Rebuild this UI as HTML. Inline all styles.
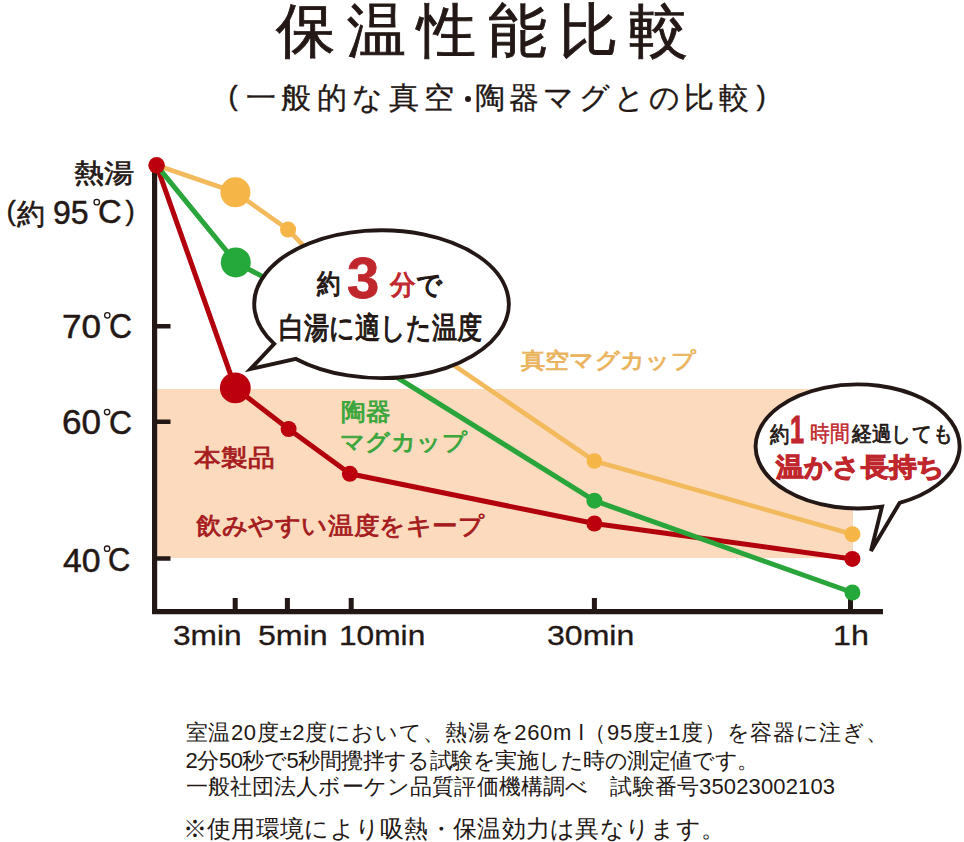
<!DOCTYPE html>
<html>
<head>
<meta charset="utf-8">
<style>
html,body{margin:0;padding:0;background:#fff;}
body{width:964px;height:842px;position:relative;overflow:hidden;font-family:"Liberation Sans",sans-serif;color:#231815;}
.t{position:absolute;white-space:nowrap;line-height:1;transform-origin:0 0;}
svg{position:absolute;left:0;top:0;}
</style>
</head>
<body>
<svg width="964" height="842" viewBox="0 0 964 842">
  <rect x="157" y="389" width="696" height="169" fill="#fbdabe"/>
  <g stroke="#231815" fill="none">
    <path d="M154.6 168 V611.6 H883" stroke-width="5.2"/>
    <path d="M157 326.3 H170.5 M157 421.7 H170.5 M157 558.5 H170.5" stroke-width="4.5"/>
    <path d="M235.2 598 V611 M287.4 598 V611 M351.2 598 V611 M594.4 598 V611 M850.5 598 V611" stroke-width="5"/>
  </g>
  <g fill="#f6b547">
    <polyline points="156.6,165.3 235.4,192.3 288.1,229.6 350,294.5 594.4,461 852.4,534.2" fill="none" stroke="#f2ba5c" stroke-width="4.6" stroke-linejoin="round"/>
    <circle cx="235.4" cy="192.3" r="15"/>
    <circle cx="288.1" cy="229.6" r="8"/>
    <circle cx="594.4" cy="461" r="7.8"/>
    <circle cx="852.4" cy="534.2" r="8"/>
  </g>
  <g fill="#bc000e">
    <polyline points="156.6,165.3 235.3,387.9 288.6,429 349.9,473.8 594.4,523.5 852.4,558.9" fill="none" stroke="#b3000d" stroke-width="5" stroke-linejoin="round"/>
    <circle cx="235.3" cy="387.9" r="15.4"/>
    <circle cx="288.6" cy="429" r="8"/>
    <circle cx="349.9" cy="473.8" r="8"/>
    <circle cx="594.4" cy="523.5" r="8"/>
    <circle cx="852.4" cy="558.9" r="8"/>
  </g>
  <g fill="#25a93a">
    <polyline points="156.6,165.3 235.8,262.4 288,290 350,348.2 594.4,500.7 852.4,592.5" fill="none" stroke="#2aa53b" stroke-width="5" stroke-linejoin="round"/>
    <circle cx="235.8" cy="262.4" r="15"/>
    <circle cx="594.4" cy="500.7" r="8"/>
    <circle cx="852.4" cy="592.5" r="8"/>
  </g>
  <circle cx="156.6" cy="165.3" r="8.3" fill="#bc000e"/>
  <path d="M296 358.9 A127.3 73.9 0 1 0 274.2 343.9 L250.5 369 Z" fill="#fff" stroke="#231815" stroke-width="3.9"/>
  <path d="M899.6 502.9 A102 62 0 1 0 882 506.6 L871 551 Z" fill="#fff" stroke="#231815" stroke-width="3.9"/>
  <g fill="none" stroke="#231815" stroke-width="1.3">
    <circle cx="96.75" cy="202.15" r="2.75"/>
    <circle cx="107.3" cy="315.35" r="2.7"/>
    <circle cx="107.1" cy="412.05" r="2.7"/>
    <circle cx="107.1" cy="548.7" r="2.7"/>
  </g>
  <circle cx="468" cy="99" r="3" fill="#231815"/>
</svg>


<div class="t" id="title" style="left:276.03px;top:2.48px;font-size:59.00px;letter-spacing:11.65px;-webkit-text-stroke-width:0.9px;">保温性能比較</div>
<div class="t" id="sp1" style="left:228.53px;top:81.68px;font-size:27.07px;-webkit-text-stroke-width:0.4px;">(</div>
<div class="t" id="s1" style="left:245.90px;top:82.65px;font-size:29.50px;letter-spacing:5.48px;-webkit-text-stroke-width:0.3px;">一般的な真空</div>
<div class="t" id="s2" style="left:474.90px;top:82.65px;font-size:29.50px;letter-spacing:4.23px;-webkit-text-stroke-width:0.3px;">陶器マグとの比較</div>
<div class="t" id="sp2" style="left:756.73px;top:81.68px;font-size:27.07px;-webkit-text-stroke-width:0.4px;">)</div>
<div class="t" id="ya1" style="left:73.60px;top:160.60px;font-size:25.94px;transform:scaleX(1.1639);-webkit-text-stroke-width:0.6px;">熱湯</div>
<div class="t" id="yb1" style="left:6.60px;top:197.10px;font-size:27.88px;-webkit-text-stroke-width:0.4px;">(</div>
<div class="t" id="yb2" style="left:17.10px;top:199.60px;font-size:28.57px;transform:scaleX(0.9617);-webkit-text-stroke-width:0.6px;">約</div>
<div class="t" id="yb3" style="left:53.10px;top:196.30px;font-size:33.86px;transform:scaleX(0.9449);-webkit-text-stroke-width:0.5px;">95</div>
<div class="t" id="yb4" style="left:98.30px;top:195.40px;font-size:33.25px;transform:scaleX(0.9843);-webkit-text-stroke-width:0.5px;">C</div>
<div class="t" id="yb5" style="left:125.60px;top:197.10px;font-size:27.88px;-webkit-text-stroke-width:0.4px;">)</div>
<div class="t" id="y70" style="left:61.90px;top:310.30px;font-size:33.20px;transform:scaleX(1.0574);-webkit-text-stroke-width:0.5px;">70</div>
<div class="t" id="y70c" style="left:109.00px;top:307.90px;font-size:35.25px;transform:scaleX(0.9031);-webkit-text-stroke-width:0.5px;">C</div>
<div class="t" id="y60" style="left:61.90px;top:404.30px;font-size:35.97px;transform:scaleX(0.9758);-webkit-text-stroke-width:0.5px;">60</div>
<div class="t" id="y60c" style="left:109.00px;top:405.60px;font-size:33.88px;transform:scaleX(0.9396);-webkit-text-stroke-width:0.5px;">C</div>
<div class="t" id="y40" style="left:63.40px;top:544.70px;font-size:32.93px;transform:scaleX(1.0251);-webkit-text-stroke-width:0.5px;">40</div>
<div class="t" id="y40c" style="left:108.30px;top:543.10px;font-size:33.05px;transform:scaleX(0.9360);-webkit-text-stroke-width:0.5px;">C</div>
<div class="t" id="x3" style="left:173.07px;top:621.92px;font-size:27.46px;transform:scaleX(1.1520);-webkit-text-stroke-width:0.3px;">3min</div>
<div class="t" id="x5" style="left:257.67px;top:621.92px;font-size:27.46px;transform:scaleX(1.1707);-webkit-text-stroke-width:0.3px;">5min</div>
<div class="t" id="x10" style="left:339.07px;top:621.92px;font-size:27.46px;transform:scaleX(1.1537);-webkit-text-stroke-width:0.3px;">10min</div>
<div class="t" id="x30" style="left:547.07px;top:621.92px;font-size:27.46px;transform:scaleX(1.1669);-webkit-text-stroke-width:0.3px;">30min</div>
<div class="t" id="x1h" style="left:833.07px;top:621.92px;font-size:27.46px;transform:scaleX(1.1748);-webkit-text-stroke-width:0.3px;">1h</div>
<div class="t" id="lv" style="left:521.25px;top:349.60px;font-size:21.78px;transform:scaleX(1.1002);-webkit-text-stroke-width:0.9px;color:#eab45e;">真空マグカップ</div>
<div class="t" id="lc1" style="left:340.85px;top:400.60px;font-size:23.58px;transform:scaleX(1.0234);-webkit-text-stroke-width:0.9px;color:#3aa63c;">陶器</div>
<div class="t" id="lc2" style="left:339.85px;top:431.80px;font-size:22.60px;transform:scaleX(1.0592);-webkit-text-stroke-width:0.9px;color:#3aa63c;">マグカップ</div>
<div class="t" id="lp1" style="left:194.22px;top:445.92px;font-size:23.93px;transform:scaleX(1.1158);-webkit-text-stroke-width:0.8px;color:#a61b1e;">本製品</div>
<div class="t" id="lp2" style="left:196.00px;top:514.20px;font-size:24.40px;transform:scaleX(1.0652);-webkit-text-stroke-width:0.8px;color:#a61b1e;">飲みやすい温度をキープ</div>
<div class="t" id="b1a" style="left:316.66px;top:270.26px;font-size:27.17px;transform:scaleX(0.8644);-webkit-text-stroke-width:1.2px;">約</div>
<div class="t" id="b1b" style="left:347.06px;top:249.76px;font-size:57.54px;transform:scaleX(1.0090);-webkit-text-stroke-width:0.8px;color:#c0272d;font-weight:bold;">3</div>
<div class="t" id="b1c" style="left:390.00px;top:271.20px;font-size:27.34px;transform:scaleX(0.9451);-webkit-text-stroke-width:1.2px;"><span style='color:#c0272d'>分</span>で</div>
<div class="t" id="b1d" style="left:279.00px;top:312.70px;font-size:30.37px;transform:scaleX(0.8371);-webkit-text-stroke-width:1.1px;">白湯に適した温度</div>
<div class="t" id="b2a" style="left:769.78px;top:423.58px;font-size:21.55px;transform:scaleX(0.8795);-webkit-text-stroke-width:0.8px;">約</div>
<div class="t" id="b2b" style="left:789.72px;top:409.52px;font-size:39.55px;transform:scaleX(0.6388);-webkit-text-stroke-width:1.0px;color:#c0272d;font-weight:bold;">1</div>
<div class="t" id="b2c" style="left:810.00px;top:422.60px;font-size:22.07px;transform:scaleX(0.8989);-webkit-text-stroke-width:0.5px;color:#c0272d;">時間</div>
<div class="t" id="b2d" style="left:852.00px;top:423.60px;font-size:20.80px;transform:scaleX(0.9389);-webkit-text-stroke-width:0.8px;">経過しても</div>
<div class="t" id="b2e" style="left:775.63px;top:454.88px;font-size:25.88px;transform:scaleX(1.0641);-webkit-text-stroke-width:1.0px;color:#c0272d;font-weight:bold;">温かさ長持ち</div>
<div class="t" id="n1" style="left:185.57px;top:721.92px;font-size:22.00px;letter-spacing:0.68px;">室温20度±2度において、熱湯を260m l（95度±1度）を容器に注ぎ、</div>
<div class="t" id="n2" style="left:185.57px;top:749.72px;font-size:22.00px;letter-spacing:-0.46px;">2分50秒で5秒間攪拌する試験を実施した時の測定値です。</div>
<div class="t" id="n3" style="left:185.57px;top:776.32px;font-size:22.00px;letter-spacing:0.15px;">一般社団法人ボーケン品質評価機構調べ　試験番号35023002103</div>
<div class="t" id="n4" style="left:182.81px;top:817.16px;font-size:24.00px;letter-spacing:0.29px;">※使用環境により吸熱・保温効力は異なります。</div>
</body>
</html>
